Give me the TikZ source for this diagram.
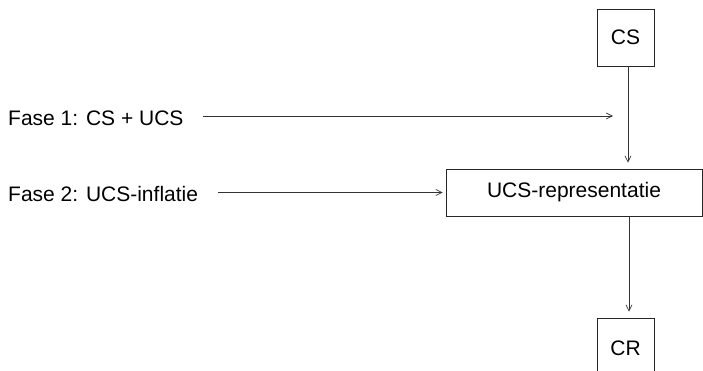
\documentclass[tikz,border=0pt]{standalone}
\usepackage{fontspec}
\setmainfont{Liberation Sans}
\usetikzlibrary{arrows.meta}
\tikzset{
  boxnode/.style={draw=black!85, line width=0.8pt, inner sep=0pt, font=\fontsize{21}{25}\selectfont},
  lbl/.style={inner sep=0pt, font=\fontsize{21}{25}\selectfont},
  arr/.style={draw=black!80, line width=0.7pt, -{Straight Barb[length=6pt,width=6pt]}}
}
\begin{document}
\begin{tikzpicture}[x=1pt,y=1pt]
\useasboundingbox (0,0) rectangle (703,371);
\clip (0,0) rectangle (703,371);
\node[boxnode, minimum width=57pt, minimum height=57pt] (cs) at (625.5,333.5) {CS};
\node[boxnode, minimum width=256pt, minimum height=47pt] (ucs) at (574,178.5) {UCS-representatie};
\node[boxnode, minimum width=57pt, minimum height=60pt] (cr) at (625.5,23) {CR};
\node[lbl, anchor=base west] (f1) at (8,245) {Fase 1: CS + UCS};
\node[lbl, anchor=base west] (f2) at (8,169) {Fase 2: UCS-inflatie};
\coordinate (t1) at (613,255);
\draw[arr] ([xshift=19pt]f1.east |- t1) -- (t1);
\draw[arr] ([xshift=20pt]f2.east |- ucs.west) -- ([xshift=-3pt]ucs.west);
\draw[arr, shorten >=6pt] ([xshift=2.5pt]cs.south) -- ([xshift=2.5pt]cs.south |- ucs.north);
\draw[arr, shorten >=6pt] ([xshift=3.5pt]cr.north |- ucs.south) -- ([xshift=3.5pt]cr.north);
\end{tikzpicture}
\end{document}
